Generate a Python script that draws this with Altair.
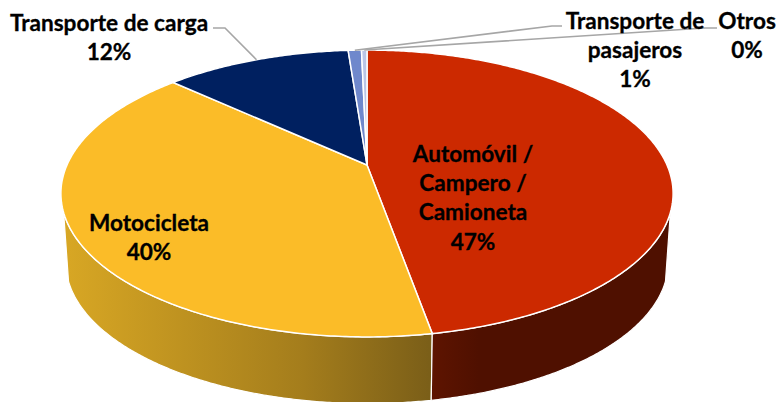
import numpy as np
import pandas as pd
import altair as alt

categories = ["Automóvil / Campero / Camioneta", "Motocicleta", "Transporte de carga", "Transporte de pasajeros", "Otros"]
shares = [47.2, 39.7, 11.9, 0.85, 0.35]
percent_labels = ["47%", "40%", "12%", "1%", "0%"]
top_colors = ["#CC2900", "#FBBC28", "#002060", "#6F88CC", "#BAC5E6"]

label_lines = [
    ["Automóvil /", "Campero /", "Camioneta", "47%"],
    ["Motocicleta", "40%"],
    ["Transporte de carga", "12%"],
    ["Transporte de", "pasajeros", "1%"],
    ["Otros", "0%"],
]
label_x = [473, 149, 109, 635, 747]
label_y = [155, 224, 24, 22, 22]
LINE_H = 29.2

# pie view (perspective of a circle)
CX, APEX_Y, A, B, P = 367, 165, 300, 105, 0.1986
BOTTOM_SCALE, TOP_MID, BOTTOM_MID = 0.984, 193.6, 262.5
WALL_EDGE = 0.3025  # turn at which the wall's outer edge leaves the rim


def rim(turn):
    th = 2 * np.pi * np.asarray(turn)
    u, v = np.sin(th), -np.cos(th)
    d = 1 - P * v
    return CX + A * u / d, (B * v + APEX_Y) / d


def base(turn):
    x, y = rim(turn)
    return CX + BOTTOM_SCALE * (x - CX), BOTTOM_MID + BOTTOM_SCALE * (y - TOP_MID)


def frame(x, y):
    return pd.DataFrame({"x": x, "y": y, "o": np.arange(len(x))})


x_enc = alt.X("x:Q", scale=alt.Scale(domain=[8, 776], nice=False, zero=False), axis=None)
y_enc = alt.Y("y:Q", scale=alt.Scale(domain=[8, 402], reverse=True, nice=False, zero=False), axis=None)


def poly(df, fill, sw=1.5, stroke="#FFFFFF"):
    return alt.Chart(df).mark_line(fill=fill, stroke=stroke, strokeWidth=sw, clip=True).encode(
        x=x_enc, y=y_enc, order="o:Q")


edges = np.cumsum([0] + shares) / sum(shares)

layers = []
# walls
wall_red = np.linspace(WALL_EDGE, edges[1], 160)
wall_yel = np.linspace(edges[1], 1 - WALL_EDGE, 200)
for turns, fill, sw in [
    (wall_yel, alt.Gradient(gradient="linear", x1=1, x2=0, y1=0, y2=0, stops=[
        alt.GradientStop(offset=0, color="#7A5E18"),
        alt.GradientStop(offset=0.35, color="#A47D1C"),
        alt.GradientStop(offset=1, color="#D8A724")]), 1.2),
    (wall_red, alt.Gradient(gradient="linear", x1=1, x2=0, y1=0, y2=0, stops=[
        alt.GradientStop(offset=0, color="#4F1000"),
        alt.GradientStop(offset=0.8, color="#4F1000"),
        alt.GradientStop(offset=1, color="#5E1400")]), 1.2),
]:
    tx, ty = rim(turns)
    bx, by = base(turns)
    xs = np.r_[tx, bx[::-1], tx[0]]
    ys = np.r_[ty, by[::-1], ty[0]]
    layers.append(poly(frame(xs, ys), fill, sw))

# top slices
for i, color in enumerate(top_colors):
    t = np.linspace(edges[i], edges[i + 1], max(6, int(shares[i] * 6)))
    rx, ry = rim(t)
    xs = np.r_[CX, rx, CX]
    ys = np.r_[APEX_Y, ry, APEX_Y]
    layers.append(poly(frame(xs, ys), color))

# leader lines
leader_end = [(edges[2] + edges[3]) / 2, (edges[3] + edges[4]) / 2, (edges[4] + edges[5]) / 2]
lx, ly = rim(leader_end)
leader_mid = [(225, 28), (552, 26), (705, 28)]
leader_tail = [(213, 28), (562, 26), (717, 28)]
for k in range(3):
    df = frame(np.array([lx[k], leader_mid[k][0], leader_tail[k][0]]),
               np.array([ly[k], leader_mid[k][1], leader_tail[k][1]]))
    layers.append(alt.Chart(df).mark_line(color="#A6A6A6", strokeWidth=1.6).encode(
        x=x_enc, y=y_enc, order="o:Q"))

# labels
rows = []
for lines, lxv, lyv in zip(label_lines, label_x, label_y):
    for j, s in enumerate(lines):
        rows.append({"x": lxv, "y": lyv + j * LINE_H, "t": s})
layers.append(alt.Chart(pd.DataFrame(rows)).mark_text(
    font="Lato", fontSize=22.6, fontWeight="bold", color="#000000", align="center", baseline="middle",
    stroke="#000000", strokeWidth=0.3
).encode(x=x_enc, y=y_enc, text="t:N"))

chart = alt.layer(*layers).properties(
    width=768, height=394, padding=0, autosize=alt.AutoSizeParams(type="none"), background="#FFFFFF"
).configure_view(stroke=None)

chart.save("out.html", embed_options={"renderer": "svg", "actions": False})
